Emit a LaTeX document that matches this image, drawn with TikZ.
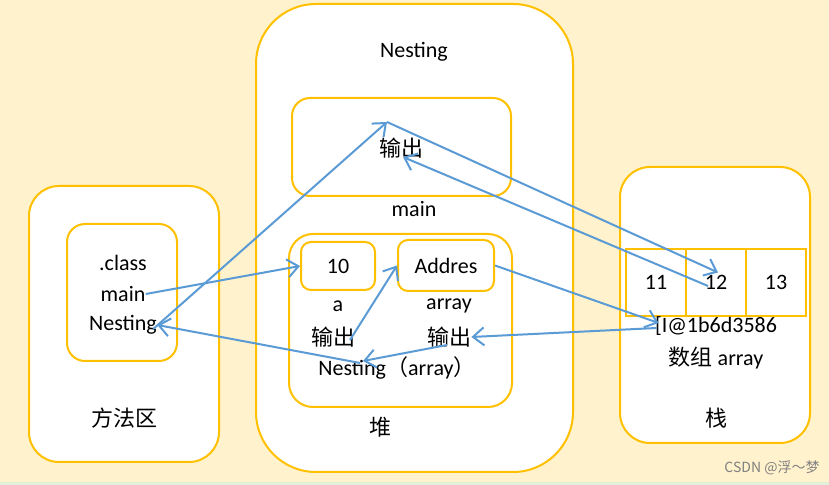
\documentclass[tikz,border=0pt]{standalone}
\usepackage{fontspec}
\setmainfont{Carlito}
\newfontfamily\cjk{Noto Sans CJK SC}
\usetikzlibrary{arrows.meta}
\definecolor{gold}{HTML}{FFC000}
\definecolor{sky}{HTML}{5B9BD5}
\definecolor{paper}{HTML}{FFF2CC}
\definecolor{mint}{HTML}{E2F0D9}

\begin{document}
\begin{tikzpicture}[x=0.5pt, y=-0.5pt,
    every node/.style={font=\fontsize{11}{13}\selectfont},
    area/.style={draw=gold, line width=1pt, fill=white, rounded corners=15pt},
    frame/.style={draw=gold, line width=1pt, rounded corners=9pt},
    valbox/.style={draw=gold, line width=1pt, fill=white, rounded corners=5pt, inner sep=0pt},
    cell/.style={draw=gold, line width=1pt, fill=white, minimum width=30pt, minimum height=33.5pt, inner sep=0pt, text depth=-2pt},
    lbl/.style={inner sep=0pt},
    arr/.style={draw=sky, line width=1pt, -{Straight Barb[length=5.5pt,width=9pt]}}]
        \useasboundingbox (0,0) rectangle (829,485);
        \fill[paper] (0,0) rectangle (829,485);
        \fill[mint] (0,482) rectangle (829,485);

        % the three areas
        \draw[area] (29,186) rectangle (219,462);
        \draw[area, rounded corners=30pt] (256,4) rectangle (573,472);
        \draw[area] (620,167) rectangle (810,443);
        \draw[frame] (67,224) rectangle (177,361);
        \draw[frame] (292,98) rectangle (511,196);
        \draw[frame, rounded corners=12pt] (289,234) rectangle (512,407);

        % method area
        \node[lbl] (clsT)  at (123,263) {.class};
        \node[lbl] (mainT) at (123,294) {main};
        \node[lbl] (nestT) at (123,325) {Nesting};
        \node      (methT) at (124,418) {\cjk 方法区};

        % heap
        \node      (heapN) at (414,52)  {Nesting};
        \node[lbl] (outM)  at (401,148) {\cjk 输出};
        \node      (mainL) at (414,209) {main};
        \node[valbox, minimum width=37pt, minimum height=24pt] (val) at (338,266) {10};
        \node[valbox, minimum width=48pt, minimum height=25.5pt] (addr) at (446,265.5) {Addres};
        \node      (aL)    at (338,306) {a};
        \node      (arrL)  at (449,306) {array};
        \node[lbl] (outA)  at (333,337) {\cjk 输出};
        \node[lbl] (outB)  at (449,337) {\cjk 输出};
        \node[lbl] (nestA) at (397,368) {Nesting{\cjk （}array{\cjk ）}};
        \node      (heapT) at (380,427) {\cjk 堆};

        % stack
        \node[cell] (c11) at (656,282.5) {11};
        \node[cell] (c12) at (716,282.5) {12};
        \node[cell] (c13) at (776,282.5) {13};
        \node[lbl] (refT)   at (716,326) {[I@1b6d3586};
        \node      (arrT)   at (716,358) {{\cjk 数组} array};
        \node      (stackT) at (716,418) {\cjk 栈};

        \node[text=gray, font=\fontsize{7}{8}\selectfont] (mark) at (772,468) {\cjk CSDN @浮～梦};

        % references
        \draw[arr] (mainT.east) -- (val.west);
        \draw[arr] ([shift={(-2pt,-2pt)}]nestT.east) -- ([shift={(-7pt,13pt)}]outM.center);
        \draw[arr] ([shift={(-7pt,13pt)}]outM.center) -- ([shift={(1pt,5pt)}]c12.center);
        \draw[arr] ([shift={(-4pt,-1.75pt)}]c12.center) -- ([shift={(1pt,-4.5pt)}]outM.center);
        \draw[arr] ([shift={(8.5pt,-1.5pt)}]outA.center) -- (addr.west);
        \draw[arr] (addr.east) -- ([shift={(2pt,1.5pt)}]refT.west);
        \draw[arr] ([shift={(1pt,-1pt)}]refT.west) -- (outB.east);
        \draw[arr] ([shift={(-1pt,-4pt)}]outB.center) -- ([shift={(-17pt,3.5pt)}]nestA.center);
        \draw[arr] ([shift={(-18.5pt,2.5pt)}]nestA.center) -- (nestT.east);
\end{tikzpicture}
\end{document}
